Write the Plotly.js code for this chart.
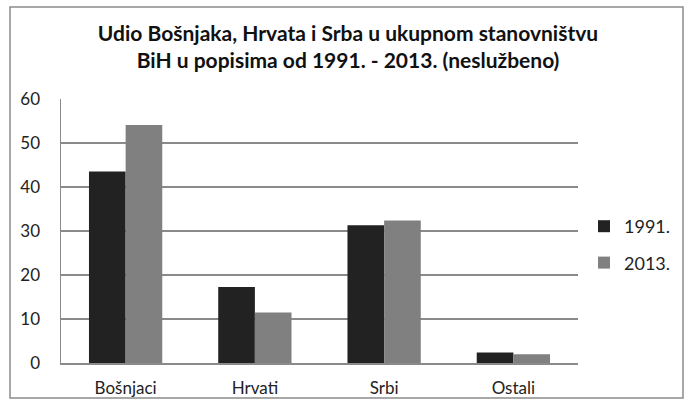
<!DOCTYPE html>
<html>
<head>
<meta charset="utf-8">
<script src="https://cdn.plot.ly/plotly-3.0.1.min.js"></script>
<style>
  html, body { margin: 0; padding: 0; background: #fff; }
  #chart { width: 689px; height: 410px; }
</style>
</head>
<body>
<div id="chart"></div>
<script>
const categories = ["Bošnjaci", "Hrvati", "Srbi", "Ostali"];
const values1991 = [43.5, 17.3, 31.3, 2.4];
const values2013 = [54.1, 11.5, 32.4, 2.0];
const seriesNames = ["1991.", "2013."];
const yTicks = [0, 10, 20, 30, 40, 50, 60];

const FONT = 'Lato, "Open Sans", sans-serif';

const traces = [
  { type: 'bar', name: seriesNames[0], x: categories, y: values1991,
    marker: { color: '#222222', line: { width: 0 } }, legendgroup: 'a', hoverinfo: 'x+y' },
  { type: 'bar', name: seriesNames[1], x: categories, y: values2013,
    marker: { color: '#808080', line: { width: 0 } }, legendgroup: 'b', hoverinfo: 'x+y' }
];

const L = 61, R = 111, T = 99, B = 47, W = 689, H = 410;
const pw = W - L - R, ph = H - T - B;
const px = v => (v - L) / pw;
const py = v => (H - B - v) / ph;

const layout = {
  width: W, height: H,
  margin: { l: L, r: R, t: T, b: B, pad: 0 },
  paper_bgcolor: '#ffffff',
  plot_bgcolor: '#ffffff',
  font: { family: FONT, size: 16, color: '#222222' },
  title: {
    text: '<b>Udio Bošnjaka, Hrvata i Srba u ukupnom stanovništvu<br>BiH u popisima od 1991. - 2013. (neslužbeno)</b>',
    font: { family: FONT, size: 21, color: '#111111' },
    x: 348 / W, xanchor: 'center',
    y: 1 - 41 / H, yanchor: 'middle'
  },
  barmode: 'group',
  bargap: 0.433,
  bargroupgap: 0,
  xaxis: {
    type: 'category',
    showline: true, linecolor: '#8a8a8a', linewidth: 1.5,
    ticks: '', showgrid: false,
    tickfont: { family: FONT, size: 17, color: '#222222' },
    ticklabelstandoff: 9
  },
  yaxis: {
    range: [0, 60],
    tickvals: yTicks,
    ticktext: yTicks.map(String),
    showline: true, linecolor: '#8a8a8a', linewidth: 1.5,
    showgrid: true, gridcolor: '#8a8a8a', gridwidth: 1.5,
    zeroline: false,
    ticks: '',
    tickfont: { family: FONT, size: 17, color: '#222222' },
    ticklabelstandoff: 16
  },
  legend: {
    x: px(584), xanchor: 'left',
    y: py(244.5), yanchor: 'middle',
    font: { family: FONT, size: 18, color: '#222222' },
    traceorder: 'grouped',
    tracegroupgap: 10,
    bgcolor: 'rgba(0,0,0,0)',
    itemwidth: 30
  },
  shapes: [
    { type: 'rect', xref: 'paper', yref: 'paper',
      x0: px(10), x1: px(683), y0: py(398), y1: py(7),
      line: { color: '#8c8c8c', width: 1.5 }, fillcolor: 'rgba(0,0,0,0)', layer: 'below' }
  ],
  showlegend: true
};

Plotly.newPlot('chart', traces, layout, { displayModeBar: false, staticPlot: true });
</script>
</body>
</html>
